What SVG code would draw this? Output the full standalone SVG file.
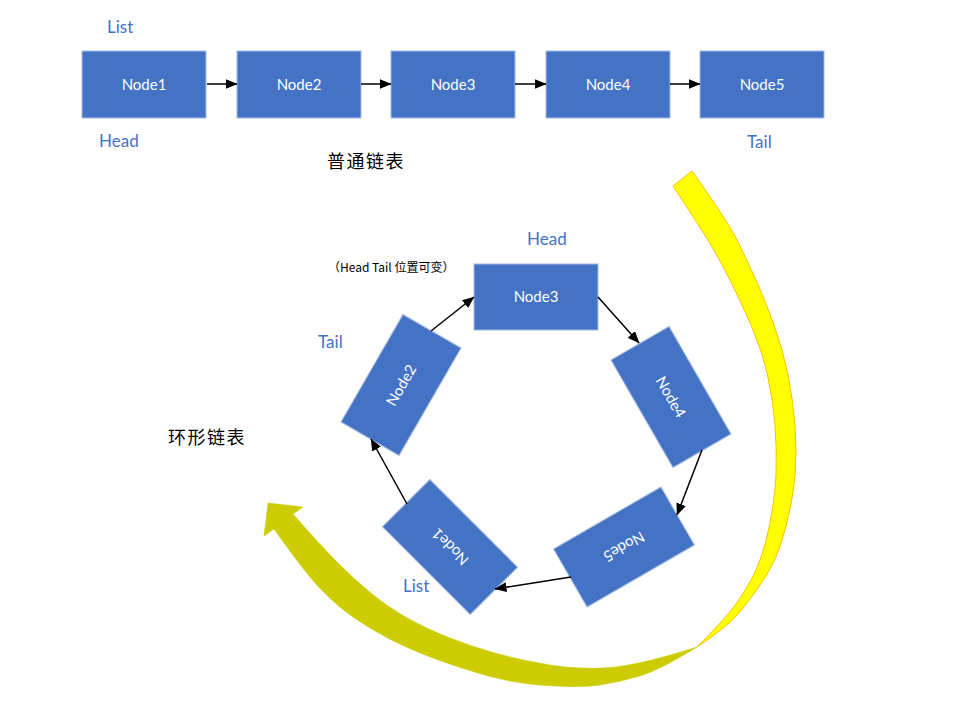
<svg xmlns="http://www.w3.org/2000/svg" width="973" height="709" viewBox="0 0 973 709">
  <style>
    .box { fill: #4472C4; stroke: #A4BAE2; stroke-width: 1; }
    .nt { font-family: Lato, "Open Sans", sans-serif; font-size: 15px; fill: #FFFFFF; text-anchor: middle; }
    .lbl { font-family: Lato, "Open Sans", sans-serif; font-size: 17px; fill: #4472C4; }
    .cn { font-family: "Noto Sans CJK SC", sans-serif; font-size: 18px; fill: #000000; letter-spacing: 1.5px; }
    .note { font-family: "Noto Sans CJK SC", sans-serif; font-size: 12px; fill: #000000; }
    .conn { stroke: #000000; stroke-width: 1.5; fill: none; marker-end: url(#ah); }
  </style>
  <defs>
    <marker id="ah" viewBox="0 0 12 10" refX="11.5" refY="5" markerWidth="12" markerHeight="10" markerUnits="userSpaceOnUse" orient="auto">
      <path d="M0,0 L12,5 L0,10 Z" fill="#000000"/>
    </marker>
  </defs>
  <rect x="0" y="0" width="973" height="709" fill="#FFFFFF"/>

  <!-- big curved ribbon arrow -->
  <g id="curved-arrow">
    <path d="M697,647 Q660,670 640,676 Q620,682 600,685 Q580,688 545,685.5 Q510,683 477.5,673 Q445,663 425,655 Q405,647 388.5,638.5 Q372,630 355,618.5 Q338,607 321.5,590 Q305,573 274,529 L264,536 L268,503 L303,507 L293,514 Q322,547 338.5,563.5 Q355,580 371.5,593.5 Q388,607 406.5,617.5 Q425,628 447.5,637 Q470,646 495,653 Q520,660 550,665 Q580,670 610,667.5 Q640,665 697,647 Z" fill="#CCCC00" stroke="#CCCC00" stroke-width="0.5"/>
    <path d="M692,171 Q727,220 737,240 Q747,260 756,280 Q765,300 774,325 Q783,350 788,375 Q793,400 795,425 Q797,450 795,475 Q793,500 785,530 Q777,560 763.5,580 Q750,600 738.5,613.5 Q727,627 697,647 Q717,627 728.5,613.5 Q740,600 751,580 Q762,560 768.5,530 Q775,500 776,475 Q777,450 775,425 Q773,400 767.5,375 Q762,350 751,325 Q740,300 730,280 Q720,260 710,243.5 Q700,227 673,186 Z" fill="#FFFF00" stroke="#FFC000" stroke-width="1"/>
  </g>

  <!-- top linear list -->
  <g id="top-node1"><rect class="box" x="82" y="51" width="124" height="67"/><text class="nt" x="144" y="90">Node1</text></g>
  <g id="top-node2"><rect class="box" x="237" y="51" width="124" height="67"/><text class="nt" x="299" y="90">Node2</text></g>
  <g id="top-node3"><rect class="box" x="391" y="51" width="124" height="67"/><text class="nt" x="453" y="90">Node3</text></g>
  <g id="top-node4"><rect class="box" x="546" y="51" width="124" height="67"/><text class="nt" x="608" y="90">Node4</text></g>
  <g id="top-node5"><rect class="box" x="700" y="51" width="124" height="67"/><text class="nt" x="762" y="90">Node5</text></g>

  <!-- ring list -->
  <g id="ring-node3"><rect class="box" x="474" y="264" width="124" height="66"/><text class="nt" x="536" y="302">Node3</text></g>
  <g id="ring-node4" transform="translate(671,397) rotate(60)"><rect class="box" x="-62" y="-33.5" width="124" height="67"/><text class="nt" x="0" y="5.5">Node4</text></g>
  <g id="ring-node5" transform="translate(624,547) rotate(150)"><rect class="box" x="-62" y="-33.5" width="124" height="67"/><text class="nt" x="0" y="5.5">Node5</text></g>
  <g id="ring-node1" transform="translate(450,547) rotate(225)"><rect class="box" x="-62" y="-33.5" width="124" height="67"/><text class="nt" x="0" y="5.5">Node1</text></g>
  <g id="ring-node2" transform="translate(401,385) rotate(-60)"><rect class="box" x="-62" y="-33.5" width="124" height="67"/><text class="nt" x="0" y="5.5">Node2</text></g>

  <g id="connectors">
    <line class="conn" x1="207" y1="84" x2="237" y2="84"/>
    <line class="conn" x1="361" y1="84" x2="391" y2="84"/>
    <line class="conn" x1="515" y1="84" x2="546" y2="84"/>
    <line class="conn" x1="670" y1="84" x2="700" y2="84"/>
    <line class="conn" x1="431" y1="331" x2="474" y2="297"/>
    <line class="conn" x1="598" y1="297" x2="639" y2="343"/>
    <line class="conn" x1="702" y1="450" x2="677" y2="515"/>
    <line class="conn" x1="571" y1="577" x2="495" y2="589"/>
    <line class="conn" x1="407" y1="504" x2="371" y2="439"/>
  </g>

  <g id="labels">
    <text class="lbl" x="107" y="33">List</text>
    <text class="lbl" x="99" y="147">Head</text>
    <text class="lbl" x="747" y="148">Tail</text>
    <text class="cn" x="327" y="168">普通链表</text>
    <text class="lbl" x="527" y="245">Head</text>
    <text class="note" x="328" y="272">（Head Tail 位置可变）</text>
    <text class="lbl" x="318" y="348">Tail</text>
    <text class="cn" x="168" y="444">环形链表</text>
    <text class="lbl" x="403" y="592">List</text>
  </g>
</svg>
